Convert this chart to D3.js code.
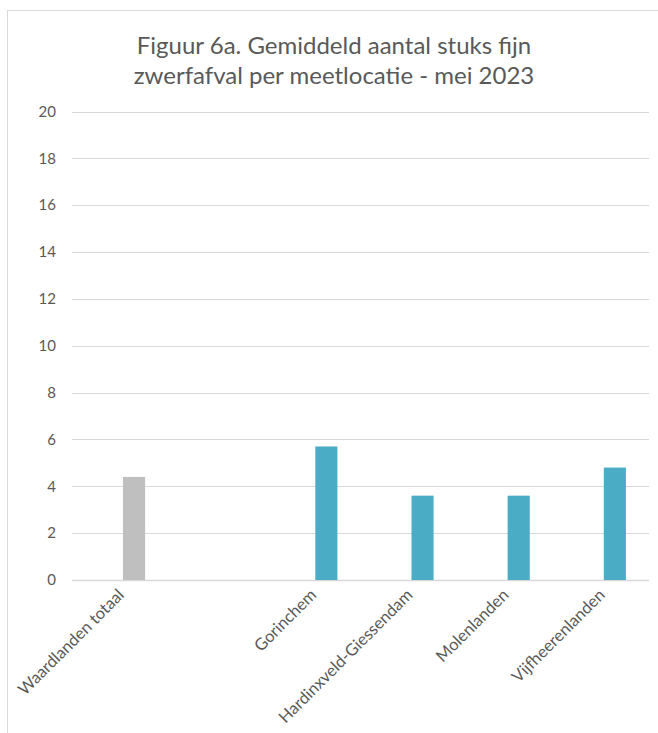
<!DOCTYPE html>
<html><head><meta charset="utf-8">
<script src="https://cdn.jsdelivr.net/npm/d3@7"></script>
<style>body{margin:0;background:#fff}svg{display:block}text{font-family:Lato,"Open Sans",sans-serif}</style>
</head><body><svg id="c" width="658" height="733"></svg>
<script>
const categories = ["Waardlanden totaal", "", "Gorinchem", "Hardinxveld-Giessendam", "Molenlanden", "Vijfheerenlanden"];
const values = [4.4, null, 5.7, 3.6, 3.6, 4.8];
const barColors = ["#bfbfbf", "#4bacc6", "#4bacc6", "#4bacc6", "#4bacc6", "#4bacc6"];
const yTicks = [0, 2, 4, 6, 8, 10, 12, 14, 16, 18, 20];
const titleLines = ["Figuur 6a. Gemiddeld aantal stuks fijn", "zwerfafval per meetlocatie - mei 2023"];

const svg = d3.select("#c");
svg.append("rect").attr("x", 7.5).attr("y", 10.5).attr("width", 700).attr("height", 800)
  .attr("fill", "#fff").attr("stroke", "#d9d9d9");

const x = d3.scaleBand().domain(d3.range(categories.length)).range([72, 649]);
const y = d3.scaleLinear().domain([0, 20]).range([580, 111.5]);

svg.append("g").selectAll("line").data(yTicks).join("line")
  .attr("x1", 72).attr("x2", 649)
  .attr("y1", d => Math.round(y(d)) + 0.5).attr("y2", d => Math.round(y(d)) + 0.5)
  .attr("stroke", "#d9d9d9").attr("stroke-width", d => d === 0 ? 1.5 : 1);

svg.append("g").selectAll("text").data(yTicks).join("text")
  .attr("x", 56).attr("y", d => y(d)).attr("dy", "0.35em")
  .attr("text-anchor", "end").attr("fill", "#595959").attr("font-size", 15)
  .text(d => d);

const bw = x.bandwidth();
svg.append("g").selectAll("rect").data(values.map((v, i) => ({v, i})).filter(d => d.v != null)).join("rect")
  .attr("x", d => x(d.i) + bw * 0.53).attr("width", bw * 0.23)
  .attr("y", d => y(d.v)).attr("height", d => y(0) - y(d.v))
  .attr("fill", d => barColors[d.i]);

svg.append("g").selectAll("text").data(categories.map((c, i) => ({c, i}))).join("text")
  .attr("transform", d => `translate(${x(d.i) + bw / 2 + 5},${596}) rotate(-45)`)
  .attr("text-anchor", "end").attr("fill", "#595959").attr("font-size", 16.5)
  .text(d => d.c);

svg.append("g").selectAll("text").data(titleLines).join("text")
  .attr("x", 334).attr("y", (d, i) => 54 + i * 29.5)
  .attr("text-anchor", "middle").attr("fill", "#595959").attr("font-size", 24)
  .text(d => d);
</script></body></html>
